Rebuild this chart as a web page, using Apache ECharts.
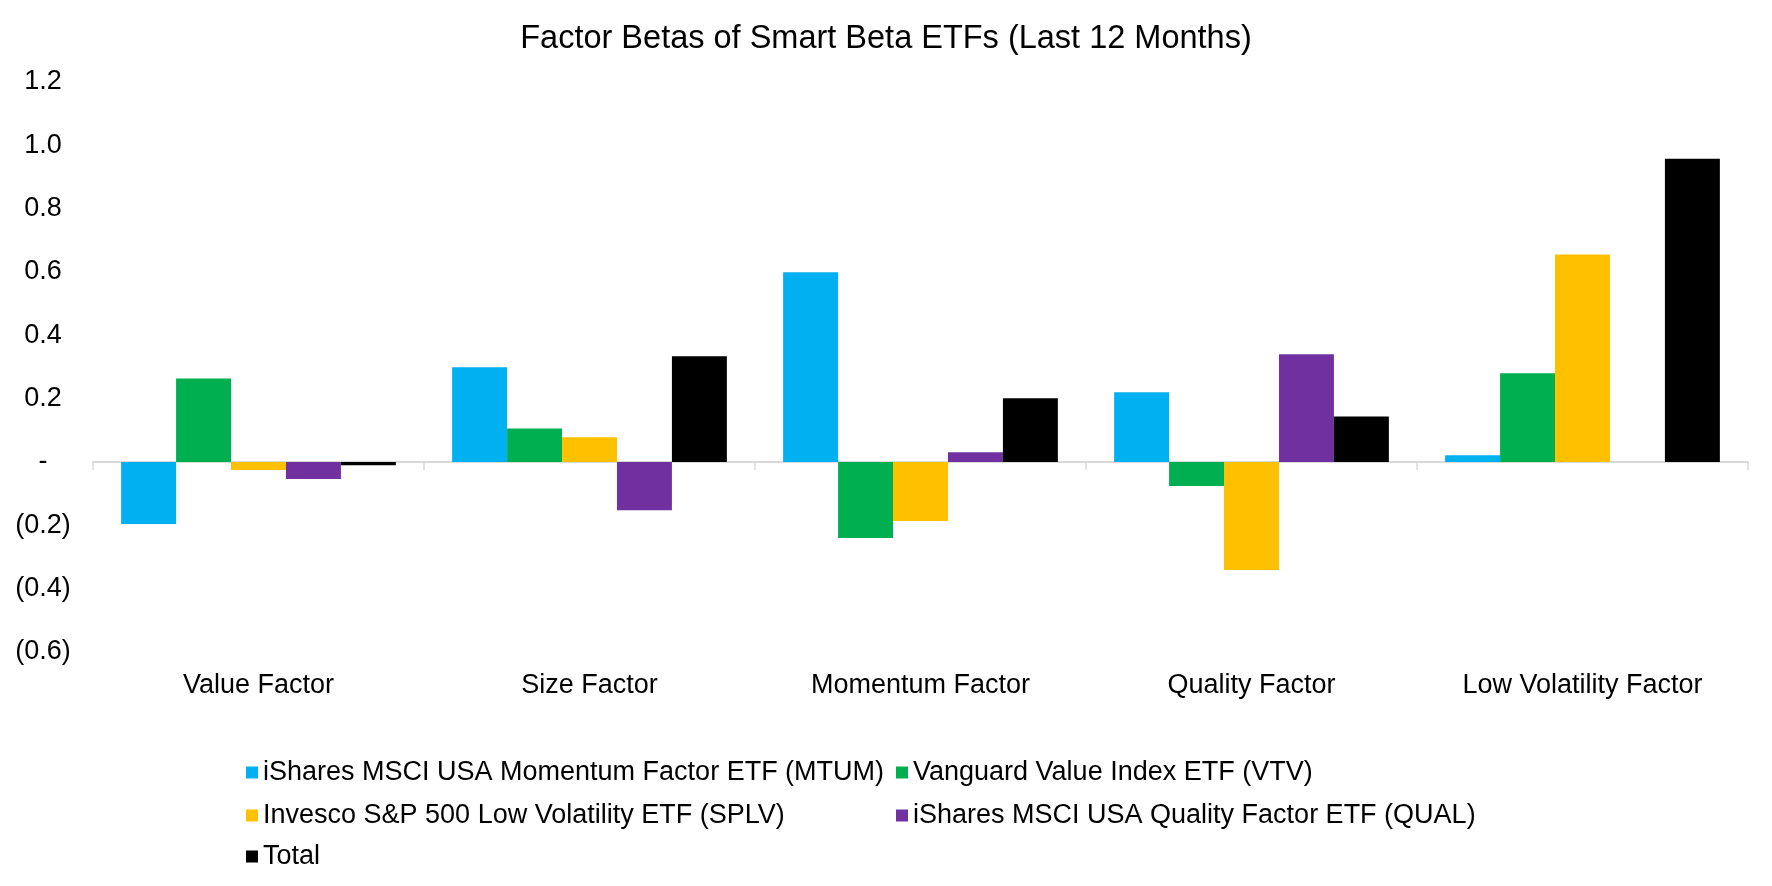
<!DOCTYPE html>
<html><head><meta charset="utf-8">
<script src="https://cdn.jsdelivr.net/npm/echarts@6/dist/echarts.min.js"></script>
<style>html,body{margin:0;padding:0;background:#fff}#c{width:1772px;height:886px}</style>
</head><body><div id="c"></div>
<script>
const titleText = 'Factor Betas of Smart Beta ETFs (Last 12 Months)';
const categories = ['Value Factor', 'Size Factor', 'Momentum Factor', 'Quality Factor', 'Low Volatility Factor'];
const seriesNames = [
  'iShares MSCI USA Momentum Factor ETF (MTUM)',
  'Vanguard Value Index ETF (VTV)',
  'Invesco S&P 500 Low Volatility ETF (SPLV)',
  'iShares MSCI USA Quality Factor ETF (QUAL)',
  'Total'
];
const mtum  = [-0.196, 0.299, 0.599, 0.220, 0.021];
const vtv   = [0.264, 0.106, -0.240, -0.076, 0.280];
const splv  = [-0.025, 0.078, -0.186, -0.341, 0.655];
const qual  = [-0.054, -0.152, 0.031, 0.340, 0];
const total = [-0.010, 0.334, 0.201, 0.144, 0.958];
const yMin = -0.6, yMax = 1.2, yStep = 0.2;

const colors = ['#00B0F0', '#00B050', '#FFC000', '#7030A0', '#000000'];
const seriesData = [mtum, vtv, splv, qual, total];
const FONT = 'Liberation Sans, Arial, sans-serif';

function fmt(v) {
  const r = Math.round(v * 10) / 10;
  if (Math.abs(r) < 1e-9) return '-';
  if (r < 0) return '(' + Math.abs(r).toFixed(1) + ')';
  return r.toFixed(1);
}

const legendPos = [[241, 754], [891, 754], [241, 797], [891, 797], [241, 838]];

const chart = echarts.init(document.getElementById('c'), null, {renderer: 'canvas'});
chart.setOption({
  animation: false,
  backgroundColor: '#ffffff',
  color: colors,
  title: {
    text: titleText, left: 'center', top: 18,
    textStyle: {fontFamily: FONT, fontSize: 32.5, fontWeight: 'normal', color: '#000'}
  },
  legend: seriesNames.map((n, i) => ({
    data: [n], left: legendPos[i][0], top: legendPos[i][1],
    icon: 'rect', itemWidth: 12, itemHeight: 12, itemGap: 0,
    textStyle: {fontFamily: FONT, fontSize: 27, color: '#000'}
  })),
  grid: {left: 93, right: 24, top: 82, bottom: 234, containLabel: false},
  xAxis: [
    {
      type: 'category', data: categories, position: 'bottom',
      axisLine: {show: false, onZero: false}, axisTick: {show: false},
      axisLabel: {fontFamily: FONT, fontSize: 27, color: '#000', margin: 20, interval: 0}
    },
    {
      type: 'category', data: categories, position: 'bottom',
      axisLine: {show: true, onZero: true, lineStyle: {color: '#d9d9d9', width: 2}},
      axisTick: {show: true, length: 8, lineStyle: {color: '#d9d9d9', width: 1.5}},
      axisLabel: {show: false}
    }
  ],
  yAxis: {
    type: 'value', min: yMin, max: yMax, interval: yStep,
    axisLine: {show: false}, axisTick: {show: false}, splitLine: {show: false},
    axisLabel: {fontFamily: FONT, fontSize: 27, color: '#000', align: 'center', margin: 50, formatter: fmt}
  },
  series: seriesNames.map((n, i) => ({
    name: n, type: 'bar', xAxisIndex: 0, data: seriesData[i],
    barGap: '0%', barCategoryGap: '17%',
    itemStyle: {color: colors[i]}
  }))
});
</script>
</body></html>
